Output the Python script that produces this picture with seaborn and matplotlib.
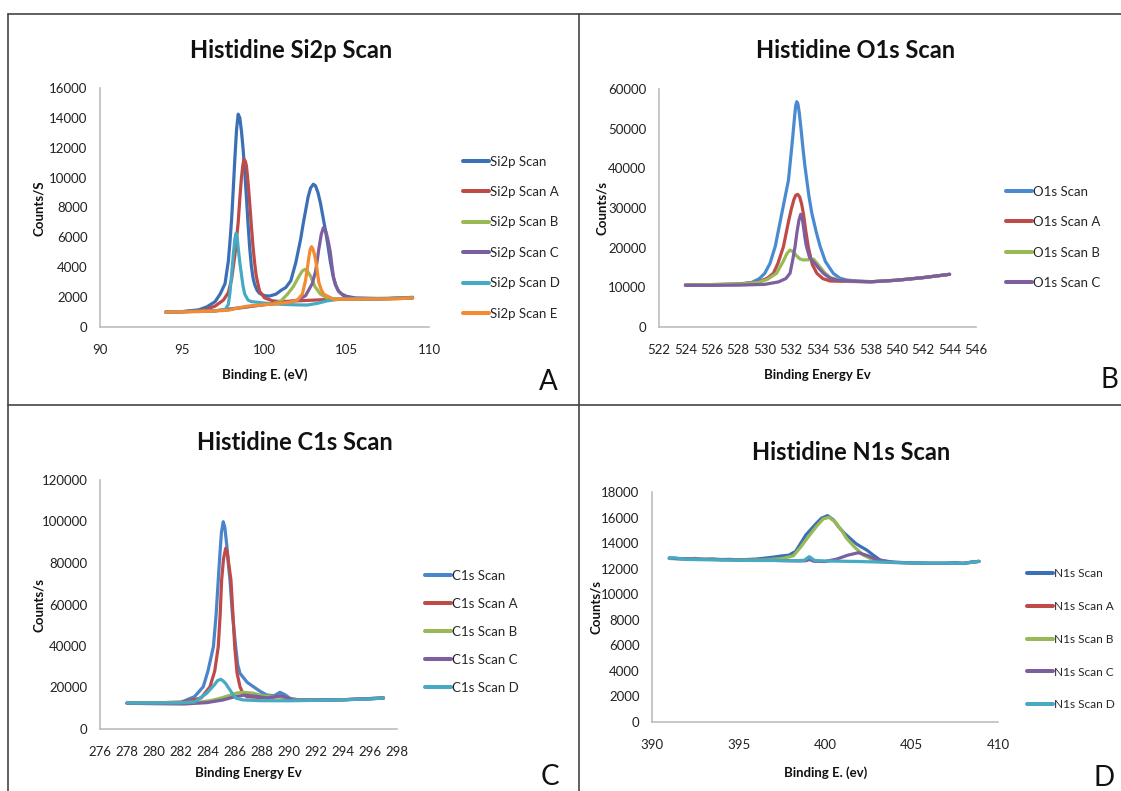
import matplotlib
matplotlib.use("Agg")
import matplotlib.pyplot as plt
from matplotlib.lines import Line2D
import seaborn as sns

# ---------------- data ----------------
# Panel A: Si2p
si2p_x = [94.0, 95.0, 96.0, 96.5, 97.0, 97.3, 97.6, 97.8, 97.9, 98.0, 98.1, 98.2, 98.3, 98.4, 98.5, 98.6, 98.7,
          98.8, 98.9, 99.0, 99.1, 99.2, 99.3, 99.4, 99.55, 99.7, 100.0, 100.3, 100.7, 101.0, 101.3, 101.6, 101.9,
          102.2, 102.35, 102.5, 102.65, 102.8, 102.97, 103.1, 103.25, 103.4, 103.55, 103.7, 103.85, 104.0, 104.15,
          104.3, 104.5, 104.7, 105.0, 105.5, 106.5, 107.5, 108.5, 109.0]
si2p_y = [1000, 1030, 1150, 1350, 1700, 2200, 2900, 4400, 5700, 7200, 9200, 11300, 13200, 14250, 14000, 13100, 11900,
          10400, 8700, 6900, 5300, 4100, 3300, 2850, 2450, 2250, 2100, 2070, 2200, 2450, 2650, 3100, 4300,
          5900, 6900, 7800, 8700, 9300, 9560, 9450, 9000, 8300, 7400, 6500, 5500, 4400, 3500,
          2850, 2400, 2200, 2050, 1950, 1920, 1900, 1950, 1990]
si2pA_x = [94.0, 95.0, 96.0, 96.5, 97.0, 97.5, 97.8, 98.0, 98.2, 98.3, 98.4, 98.5, 98.6, 98.68, 98.75, 98.83, 98.9,
           99.0, 99.1, 99.2, 99.3, 99.4, 99.5, 99.7, 100.0, 100.5, 101.0, 102.0, 104.0, 106.0, 109.0]
si2pA_y = [1000, 1020, 1100, 1200, 1400, 1800, 2300, 3200, 4800, 5900, 7000, 8600, 10000, 10800, 11230, 11100, 10800,
           9700, 8300, 6800, 5400, 4300, 3400, 2400, 1950, 1750, 1700, 1750, 1850, 1880, 1950]
si2pB_x = [94.0, 97.0, 98.5, 100.0, 100.5, 101.0, 101.4, 101.75, 102.1, 102.3, 102.46, 102.6, 102.8, 103.07, 103.4,
           103.8, 104.2, 106.0, 109.0]
si2pB_y = [1000, 1080, 1280, 1500, 1540, 1750, 2200, 2700, 3400, 3750, 3860, 3750, 3400, 2700, 2200, 1950, 1900,
           1880, 1950]
si2pC_x = [94.0, 97.0, 98.5, 100.0, 101.0, 102.0, 102.5, 102.9, 103.1, 103.2, 103.3, 103.45, 103.58, 103.7, 103.8,
           103.9, 104.0, 104.1, 104.2, 104.35, 104.5, 104.8, 105.4, 107.0, 109.0]
si2pC_y = [1000, 1080, 1280, 1500, 1600, 1800, 2100, 2900, 3700, 4400, 5200, 6200, 6650, 6500, 6100, 5600, 5000,
           4100, 3300, 2750, 2400, 2100, 1900, 1880, 1950]
si2pD_x = [94.0, 96.0, 97.0, 97.6, 97.8, 97.9, 98.0, 98.1, 98.2, 98.27, 98.34, 98.4, 98.5, 98.6, 98.7, 98.8, 99.0,
           99.2, 100.0, 101.0, 102.0, 102.6, 103.2, 103.8, 104.5, 105.5, 107.0, 109.0]
si2pD_y = [1000, 1050, 1090, 1150, 1500, 2300, 3500, 4800, 5900, 6270, 6000, 5300, 4300, 3500, 2700, 2200, 1800,
           1700, 1600, 1520, 1480, 1470, 1580, 1750, 1850, 1880, 1880, 1950]
si2pE_x = [94.0, 96.0, 97.0, 97.8, 98.3, 99.0, 100.5, 101.5, 102.0, 102.3, 102.5, 102.6, 102.7, 102.78, 102.86,
           102.95, 103.05, 103.15, 103.3, 103.45, 103.6, 104.2, 106.0, 108.0, 109.0]
si2pE_y = [1000, 1030, 1080, 1120, 1250, 1400, 1540, 1650, 1800, 2200, 3150, 3900, 4700, 5200, 5380,
           5200, 4800, 4200, 3000, 2500, 2200, 1850, 1880, 1880, 1950]

# Panel B: O1s
o1s_x = [524, 526, 528, 529, 529.6, 530.0, 530.4, 530.8, 531.2, 531.5, 531.8, 531.95, 532.1, 532.25, 532.35, 532.43,
         532.52, 532.62, 532.75, 532.9, 533.05, 533.19, 533.35, 533.57, 533.9, 534.2, 534.6, 535.2, 535.7, 536.2,
         537, 538.2, 539.5, 540.8, 542, 543, 544]
o1s_y = [10600, 10650, 10850, 11200, 12200, 13500, 16000, 20300, 27000, 32000, 37000, 42000, 47000, 52500, 55800,
         56800, 56200, 54000, 50000, 45000, 40500, 37000, 33000, 28700, 24000, 20300, 16500, 13500, 12300, 11850,
         11600, 11420, 11650, 12020, 12450, 12850, 13280]
o1sA_x = [524, 528, 529.5, 530.2, 530.66, 531.0, 531.42, 531.8, 532.0, 532.2, 532.35, 532.5, 532.65, 532.8, 532.95,
          533.1, 533.3, 533.6, 533.95, 534.4, 534.95, 536, 538, 540, 542, 544]
o1sA_y = [10600, 10800, 11300, 12300, 13540, 16000, 20250, 26500, 29500, 32000, 33200, 33450, 32800, 31000, 28200,
          24500, 20250, 15800, 13540, 12200, 11600, 11500, 11400, 11800, 12450, 13280]
o1sB_x = [524, 528, 529.5, 530.2, 530.9, 531.4, 531.7, 531.92, 532.15, 532.4, 532.65, 532.93, 533.3, 533.69, 534.1,
          534.58, 535.0, 535.8, 537, 538, 540, 542, 544]
o1sB_y = [10600, 10800, 11200, 12000, 13540, 16500, 18600, 19400, 19000, 18000, 17200, 16890, 16950, 17140, 15500,
          13540, 12400, 11700, 11500, 11400, 11800, 12450, 13280]
o1sC_x = [524, 526, 528, 530, 531.04, 531.6, 531.92, 532.1, 532.3, 532.45, 532.6, 532.73, 532.85, 532.95, 533.05,
          533.15, 533.4, 533.8, 534.1, 534.45, 534.9, 535.5, 537, 538, 540, 542, 544]
o1sC_y = [10500, 10500, 10550, 10750, 11360, 12200, 13540, 16500, 20250, 24000, 27000, 28410, 27300, 25000, 22500,
          20500, 17500, 16050, 14800, 13540, 12400, 11800, 11500, 11400, 11800, 12450, 13280]

# Panel C: C1s
c1s_x = [278, 280, 282, 283.0, 283.65, 284.0, 284.4, 284.6, 284.76, 284.9, 285.0, 285.13, 285.25, 285.4, 285.5,
         285.63, 285.8, 286.05, 286.2, 286.37, 286.9, 287.36, 287.9, 288.35, 288.9, 289.33, 289.7, 290.07, 290.8,
         292, 294, 296, 297]
c1s_y = [12500, 12600, 12900, 15570, 20400, 28000, 39660, 55000, 71800, 86000, 95000, 99900, 97000, 88000, 80000,
         71800, 56000, 39660, 31000, 26840, 22500, 20400, 18000, 16380, 16000, 17680, 16500, 14790, 13980,
         13900, 14100, 14500, 14940]
c1sA_x = [278, 280, 282, 282.7, 283.5, 284.15, 284.5, 284.76, 284.9, 285.01, 285.15, 285.31, 285.42, 285.55, 285.7,
          285.85, 285.98, 286.15, 286.37, 286.6, 286.87, 287.5, 288.5, 289.4, 290.0, 291, 294, 297]
c1sA_y = [12500, 12600, 12900, 13700, 15000, 20400, 28000, 39660, 55000, 71800, 82000, 87080, 85500, 79000, 71800,
          55000, 39660, 27000, 20400, 17000, 15570, 15300, 15000, 15800, 14300, 13900, 14100, 14940]
c1sB_x = [278, 280, 282, 283.5, 284.2, 284.9, 285.6, 286.1, 286.6, 287.3, 288.1, 289.2, 290.0, 291, 294, 297]
c1sB_y = [12500, 12500, 12700, 13100, 13700, 14800, 16200, 17300, 17680, 17300, 16000, 15400, 14500, 13900, 14100,
          14940]
c1sC_x = [278, 280, 282.2, 283.9, 285.1, 285.9, 286.74, 287.5, 288.4, 289.4, 290.3, 291, 294, 297]
c1sC_y = [12400, 12200, 12050, 12700, 13980, 15400, 16380, 15800, 15000, 16000, 14000, 13900, 14100, 14940]
c1sD_x = [278, 280, 282, 283.0, 283.9, 284.5, 284.7, 284.94, 285.1, 285.3, 285.45, 285.63, 285.85, 286.1, 286.6,
          287.85, 290, 292, 294, 296, 297]
c1sD_y = [12500, 12500, 12600, 13000, 17200, 21500, 23300, 23950, 23300, 22000, 20500, 18800, 16500, 14800, 14000,
          13640, 13600, 13800, 14100, 14500, 14940]

# Panel D: N1s
n1s_x = [391.0, 391.5, 392.0, 392.5, 393.0, 393.5, 394.0, 394.5, 395.0, 395.5, 396.0, 396.5, 397.0, 397.5, 397.9,
         398.3, 398.6, 398.9, 399.2, 399.5, 399.8, 400.15, 400.5, 400.8, 401.1, 401.45, 401.8, 402.1, 402.41, 402.8,
         403.18, 403.6, 404.0, 405.0, 406.0, 407.0, 407.5, 408.0, 408.5, 408.9]
n1s_y = [12850, 12780, 12760, 12800, 12720, 12760, 12700, 12730, 12680, 12720, 12750, 12820, 12900, 13000, 13050,
         13350, 14000, 14650, 15100, 15550, 15950, 16150, 15800, 15250, 14800, 14370, 13950, 13700, 13460, 13050,
         12680, 12550, 12500, 12450, 12420, 12420, 12480, 12400, 12530, 12570]
n1sA_x = []
n1sA_y = []
n1sB_x = [391, 393, 395, 396.5, 397.5, 398.17, 398.6, 399.04, 399.5, 399.9, 400.23, 400.6, 401.0, 401.25, 401.7,
          402.21, 402.9, 404, 406, 408, 408.9]
n1sB_y = [12800, 12750, 12700, 12700, 12780, 13000, 13700, 14500, 15300, 15900, 16020, 15650, 14900, 14370, 13700,
          13070, 12600, 12480, 12420, 12420, 12570]
n1sC_x = [391, 393, 395, 397, 398.5, 398.9, 399.1, 399.35, 400.0, 400.68, 401.3, 401.93, 402.5, 403.0, 404, 406,
          408, 408.9]
n1sC_y = [12800, 12730, 12680, 12650, 12600, 12620, 12720, 12580, 12560, 12750, 13050, 13250, 13000, 12700, 12500,
          12420, 12420, 12570]
n1sD_x = [391, 391.3, 392, 393, 394, 395, 396, 397, 398, 398.8, 399.09, 399.4, 400, 401, 402, 403, 404, 405, 406,
          407, 408, 408.5, 408.9]
n1sD_y = [12800, 12850, 12720, 12700, 12680, 12650, 12640, 12640, 12620, 12650, 12940, 12640, 12600, 12580, 12560,
          12520, 12480, 12450, 12430, 12430, 12420, 12500, 12570]

# ---------------- style ----------------
sns.set_style("white")
FONT = ["Lato", "DejaVu Sans"]
plt.rcParams["font.family"] = FONT

BLUE, RED, GREEN, PURPLE, TEAL, ORANGE = "#3C70B6", "#BE4B48", "#98B954", "#7D5FA0", "#46AAC5", "#F58A30"
W, H = 1121, 791
fig = plt.figure(figsize=(W / 100, H / 100), dpi=100)


def fx(x):
    return x / W


def fy(y):
    return 1 - y / H


def add_axes(x0, y0, x1, y1):
    return fig.add_axes([fx(x0), fy(y1), (x1 - x0) / W, (y1 - y0) / H])


panels = [
    dict(box=(100, 88, 429, 327), xlim=(90, 110), xt=list(range(90, 111, 5)), ylim=(0, 16000),
         yt=list(range(0, 16001, 2000)), title="Histidine Si2p Scan", tpos=(291, 50),
         ylabel="Counts/S", ylpos=(39, 208), xlabel="Binding E. (eV)", xlpos=(265, 375),
         letter="A", lpos=(548, 382), leg=(463, 162), lspace=31.2, legfs=9.5,
         series=[("Si2p Scan", si2p_x, si2p_y, BLUE), ("Si2p Scan A", si2pA_x, si2pA_y, RED),
                 ("Si2p Scan B", si2pB_x, si2pB_y, GREEN), ("Si2p Scan C", si2pC_x, si2pC_y, PURPLE),
                 ("Si2p Scan D", si2pD_x, si2pD_y, TEAL), ("Si2p Scan E", si2pE_x, si2pE_y, ORANGE)]),
    dict(box=(659, 89, 976, 327), xlim=(522, 546), xt=list(range(522, 547, 2)), ylim=(0, 60000),
         yt=list(range(0, 60001, 10000)), title="Histidine O1s Scan", tpos=(856, 50),
         ylabel="Counts/s", ylpos=(602, 208), xlabel="Binding Energy Ev", xlpos=(817, 375),
         letter="B", lpos=(1109, 380), leg=(1006, 192), lspace=31.3, legfs=9.5,
         series=[("O1s Scan", o1s_x, o1s_y, "#4A8AD2"), ("O1s Scan A", o1sA_x, o1sA_y, RED),
                 ("O1s Scan B", o1sB_x, o1sB_y, GREEN), ("O1s Scan C", o1sC_x, o1sC_y, PURPLE)]),
    dict(box=(100, 480, 397, 729), xlim=(276, 298), xt=list(range(276, 299, 2)), ylim=(0, 120000),
         yt=list(range(0, 120001, 20000)), title="Histidine C1s Scan", tpos=(295, 443),
         ylabel="Counts/s", ylpos=(39, 605), xlabel="Binding Energy Ev", xlpos=(248, 773),
         letter="C", lpos=(550, 777), leg=(425, 576), lspace=28.9, legfs=9.5,
         series=[("C1s Scan", c1s_x, c1s_y, "#4A84CA"), ("C1s Scan A", c1sA_x, c1sA_y, RED),
                 ("C1s Scan B", c1sB_x, c1sB_y, GREEN), ("C1s Scan C", c1sC_x, c1sC_y, PURPLE),
                 ("C1s Scan D", c1sD_x, c1sD_y, TEAL)]),
    dict(box=(652, 492, 998, 722), xlim=(390, 410), xt=list(range(390, 411, 5)), ylim=(0, 18000),
         yt=list(range(0, 18001, 2000)), title="Histidine N1s Scan", tpos=(851, 452),
         ylabel="Counts/s", ylpos=(596, 607), xlabel="Binding E. (ev)", xlpos=(826, 773),
         letter="D", lpos=(1104, 778), leg=(1027, 574), lspace=33.4, legfs=8.6,
         series=[("N1s Scan", n1s_x, n1s_y, BLUE), ("N1s Scan A", n1sA_x, n1sA_y, RED),
                 ("N1s Scan B", n1sB_x, n1sB_y, GREEN), ("N1s Scan C", n1sC_x, n1sC_y, PURPLE),
                 ("N1s Scan D", n1sD_x, n1sD_y, TEAL)]),
]

LW = 2.3
TICK_FS = 9.5
for p in panels:
    ax = add_axes(*p["box"])
    handles = []
    for name, xs, ys, col in p["series"]:
        if len(xs):
            sns.lineplot(x=xs, y=ys, ax=ax, color=col, lw=LW, sort=False, estimator=None,
                         legend=False, solid_capstyle="round", solid_joinstyle="round")
        handles.append(Line2D([0], [0], color=col, lw=LW + 0.6, label=name))
    ax.set_xlim(*p["xlim"])
    ax.set_ylim(*p["ylim"])
    ax.set_xticks(p["xt"])
    ax.set_yticks(p["yt"])
    ax.tick_params(axis="both", length=0, labelsize=TICK_FS, colors="#222222")
    ax.tick_params(axis="y", pad=9)
    ax.tick_params(axis="x", pad=12)
    for s in ["top", "right"]:
        ax.spines[s].set_visible(False)
    for s in ["left", "bottom"]:
        ax.spines[s].set_color("#BDBDBD")
        ax.spines[s].set_linewidth(1.2)
    ax.set_xlabel("")
    ax.set_ylabel("")
    ax.grid(False)

    lfs = p["legfs"]
    fs_px = lfs * 100 / 72
    ls = (p["lspace"] - 0.97 * fs_px) / fs_px
    top_y = p["leg"][1] - 0.5 * 0.97 * fs_px
    fig.legend(handles=handles, loc="upper left",
               bbox_to_anchor=(fx(p["leg"][0]), fy(top_y)), frameon=False,
               fontsize=lfs, handlelength=26 / fs_px, handletextpad=0.1,
               labelspacing=ls, borderpad=0, borderaxespad=0)

    fig.text(fx(p["tpos"][0]), fy(p["tpos"][1]), p["title"], ha="center", va="center",
             fontsize=17, fontweight="bold", color="#111111")
    fig.text(fx(p["ylpos"][0]), fy(p["ylpos"][1]), p["ylabel"], ha="center", va="center",
             rotation=90, fontsize=9.5, fontweight="bold", color="#111111")
    fig.text(fx(p["xlpos"][0]), fy(p["xlpos"][1]), p["xlabel"], ha="center", va="center",
             fontsize=9.5, fontweight="bold", color="#111111")
    fig.text(fx(p["lpos"][0]), fy(p["lpos"][1]), p["letter"], ha="center", va="center",
             fontsize=20, color="#111111")

# panel frame lines
LC = "#444444"
fig.add_artist(Line2D([fx(8), fx(1121)], [fy(14), fy(14)], color=LC, lw=1.2))
fig.add_artist(Line2D([fx(8), fx(8)], [fy(14), fy(791)], color=LC, lw=1.2))
fig.add_artist(Line2D([fx(579), fx(579)], [fy(14), fy(791)], color=LC, lw=1.2))
fig.add_artist(Line2D([fx(8), fx(1121)], [fy(405), fy(405)], color=LC, lw=1.2))

fig.savefig("out.png", dpi=100)
